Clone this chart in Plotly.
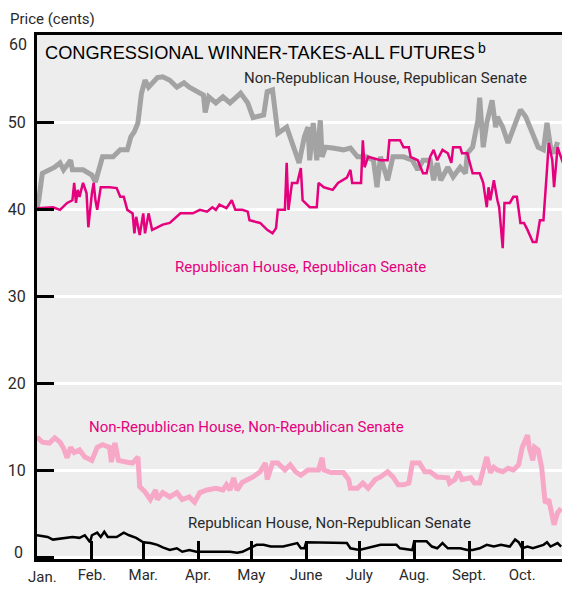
import plotly.graph_objects as go

# x = day of year (1996, day 0 = Jan 1), y = price in cents
month_days = [0, 31, 60, 91, 121, 152, 182, 213, 244, 274]
month_labels = ["Jan.", "Feb.", "Mar.", "Apr.", "May", "June", "July", "Aug.", "Sept.", "Oct."]
y_ticks = [0, 10, 20, 30, 40, 50, 60]
y_labels = ["0", "10", "20", "30", "40", "50", "60"]

# Non-Republican House, Republican Senate
gray_days = [0, 1, 3, 10, 13, 15, 19, 20, 26, 31, 33, 35, 37, 43, 47, 51, 53, 55, 57, 59,
             61, 63, 68, 71, 75, 79, 83, 86, 90, 94, 95, 97, 101, 105, 109, 115, 119, 122, 128, 130,
             133, 135, 136, 141, 145, 148, 151, 153, 154, 156, 158, 160, 161, 163, 167, 173, 177, 181, 186, 190,
             192, 194, 198, 201, 207, 212, 215, 218, 222, 224, 226, 228, 232, 235, 239, 242, 243, 246, 249, 250,
             252, 254, 257, 259, 260, 263, 266, 269, 273, 276, 279, 283, 286, 288, 290, 292, 294]
gray_vals = [40.2, 41, 44.1, 44.8, 45.3, 44.5, 45.6, 44.5, 44.5, 43.9, 43.1, 44.8, 46, 46, 46.8, 46.8, 48.3, 48.9, 49.9, 53.3,
             54.8, 54, 55.1, 55.2, 54.8, 54, 54.5, 54, 53.5, 53.1, 51.1, 52.9, 52.2, 52.9, 52.2, 53.3, 52.2, 50.5, 50.8, 53.5,
             53.7, 50.2, 48.7, 49.4, 47.1, 45.3, 48.3, 49.4, 45.6, 49.9, 45.6, 50.2, 46, 47.1, 47, 46.8, 47, 46, 46, 45.6,
             42.5, 46, 43.3, 46, 46, 45.6, 44.5, 45.6, 45.6, 43.3, 45.3, 43.3, 44.8, 43.7, 44.8, 44.1, 46.4, 47.1, 50.2, 52.8,
             47.1, 49.9, 52.5, 49.4, 50.6, 49.4, 47.6, 49.4, 51.4, 50.6, 49.1, 47.1, 46.8, 49.9, 47.1, 46.4, 47.7]

# Republican House, Republican Senate
mag_days = [0, 9, 13, 17, 20, 21, 22, 23, 24, 26, 28, 29, 31, 32, 33, 34, 36, 41, 45, 47,
            49, 51, 54, 55, 56, 58, 60, 61, 63, 65, 68, 71, 75, 78, 81, 88, 92, 96, 99, 101,
            103, 107, 110, 112, 116, 119, 120, 126, 130, 133, 135, 136, 140, 141, 142, 144, 147, 149, 150, 154,
            158, 159, 162, 167, 170, 175, 177, 178, 183, 184, 185, 187, 194, 198, 199, 205, 207, 210, 211, 215,
            218, 220, 222, 224, 226, 229, 232, 234, 235, 239, 240, 243, 246, 250, 252, 254, 255, 256, 258, 260,
            261, 263, 264, 267, 269, 271, 273, 275, 277, 280, 282, 284, 286, 288, 289, 291, 292, 294, 297, 298]
mag_vals = [40.1, 40.2, 39.9, 40.7, 41, 43, 40.7, 42.2, 41.4, 43, 41.8, 37.9, 41.8, 43, 41, 39.9, 42.5, 42.5, 42.4, 41.4,
            41.4, 39.9, 39.5, 37.2, 39.1, 37, 39.5, 37.2, 39.5, 37.6, 37.9, 38.2, 38.4, 39, 39.5, 39.5, 39.9, 39.7, 40.2, 39.9,
            40.5, 40.1, 41, 39.9, 39.9, 39.7, 38.7, 38.4, 37.6, 37.2, 37.8, 39.9, 39.9, 45.3, 39.9, 43, 43, 44.7, 41, 40.2,
            40.2, 43, 42.5, 42.2, 43, 43.6, 44.5, 43, 43, 47.9, 44.8, 46, 45.6, 45.6, 47.9, 47.9, 47.1, 47.1, 46, 45.6,
            44.1, 44.1, 46, 46.8, 45.6, 46.8, 46.4, 45.3, 47.1, 47.1, 46.4, 46.4, 44.1, 44.1, 43, 40.2, 42.5, 41, 43.3, 41,
            40.2, 35.5, 40.7, 40.7, 41.4, 41.4, 38.4, 38.4, 37.6, 36.2, 36.2, 38.7, 38.7, 44.5, 47.6, 45.6, 42.5, 47.1, 45.3, 46.6]

# Non-Republican House, Non-Republican Senate
pink_days = [0, 3, 7, 10, 13, 15, 17, 19, 21, 24, 27, 31, 34, 37, 41, 42, 44, 46, 51, 54,
             57, 58, 61, 64, 67, 68, 71, 75, 79, 82, 86, 89, 92, 96, 101, 105, 107, 109, 111, 113,
             116, 120, 122, 126, 129, 130, 133, 136, 140, 143, 146, 149, 153, 156, 159, 161, 162, 166, 173, 176,
             177, 181, 184, 187, 191, 194, 198, 201, 204, 207, 210, 212, 216, 219, 222, 226, 229, 232, 233, 236,
             238, 240, 245, 247, 250, 252, 254, 256, 258, 260, 263, 266, 269, 272, 274, 277, 278, 280, 281, 283,
             285, 287, 289, 292, 294, 296]
pink_vals = [13.8, 13.2, 13.1, 13.7, 13.2, 12.5, 11.4, 12.6, 12, 12.3, 11.5, 11.1, 12.6, 12.9, 12.6, 10.9, 13.1, 11.1, 10.9, 10.8,
             11.5, 8.1, 7.5, 6.6, 7.7, 6.6, 7.4, 6.9, 7.4, 6.6, 6.9, 6.3, 7.4, 7.7, 7.9, 7.7, 8.3, 7.7, 9.1, 7.7,
             8.6, 8.9, 9.2, 9.8, 10.8, 8.9, 10.8, 10.8, 10, 10.6, 9.8, 9.4, 10, 10, 10, 11.4, 10, 9.7, 9.7, 8.9,
             7.9, 7.9, 8.5, 7.9, 8.9, 9.2, 9.8, 9.2, 8.3, 8.3, 8.5, 10.8, 10.8, 9.8, 9.8, 9.2, 9.1, 9.1, 8.5, 8.9,
             9.8, 8.9, 9.1, 8.5, 8.5, 10.3, 11.5, 9.7, 10.3, 10, 9.8, 10.2, 10, 10.6, 12.6, 14, 12.6, 11.1, 12.6, 12.3,
             10.3, 6.2, 6.6, 3.7, 5.1, 5.6]

# Republican House, Non-Republican Senate
blk_days = [0, 6, 9, 15, 20, 24, 27, 30, 31, 34, 36, 38, 40, 45, 49, 52, 56, 60, 64, 68,
            71, 75, 79, 82, 86, 90, 94, 102, 109, 113, 116, 120, 124, 128, 132, 139, 147, 149, 151, 152,
            175, 177, 182, 190, 194, 203, 205, 212, 213, 220, 223, 226, 229, 232, 239, 243, 246, 250, 254, 258,
            262, 267, 270, 272, 274, 277, 280, 286, 288, 290, 294, 296]
blk_vals = [2.5, 2.3, 2, 2.2, 2.3, 2.2, 2.5, 1.7, 2.5, 2.8, 2.3, 2.9, 2.3, 2.3, 2.8, 2.5, 2.2, 1.7, 1.6, 1.4,
            1.1, 0.8, 1, 0.6, 0.8, 0.6, 0.6, 0.6, 0.6, 0.5, 0.6, 1, 1.4, 1.4, 1.2, 1.2, 1.6, 1, 1, 1.7,
            1.6, 1, 0.8, 1.2, 1.4, 1.4, 1, 0.8, 1.8, 1.8, 1.2, 1, 1.6, 1, 1, 0.8, 0.8, 1, 1.4, 1.2,
            1.4, 1.2, 2, 1.7, 1, 1.2, 1, 1.4, 1.7, 1.2, 1.6, 1.2]

LABEL_FONT = "Roboto, Liberation Sans, sans-serif"
MAGENTA = "#e5007d"
INK = "#2a2a2a"

fig = go.Figure()
fig.add_trace(go.Scatter(x=pink_days, y=pink_vals, mode="lines",
                         line=dict(color="#f7a8c7", width=5)))
fig.add_trace(go.Scatter(x=blk_days, y=blk_vals, mode="lines",
                         line=dict(color="black", width=2.5)))
fig.add_trace(go.Scatter(x=gray_days, y=gray_vals, mode="lines",
                         line=dict(color="#a3a3a3", width=5)))
fig.add_trace(go.Scatter(x=mag_days, y=mag_vals, mode="lines",
                         line=dict(color=MAGENTA, width=2.5)))

labels = [
    ("Non-Republican House, Republican Senate", 197, 55.1, INK),
    ("Republican House, Republican Senate", 149, 33.3, MAGENTA),
    ("Non-Republican House, Non-Republican Senate", 118.5, 14.9, MAGENTA),
    ("Republican House, Non-Republican Senate", 165, 3.9, INK),
]
for text, x, y, c in labels:
    fig.add_annotation(x=x, y=y, text=text, showarrow=False,
                       font=dict(family=LABEL_FONT, size=15, color=c))

fig.add_annotation(xref="paper", yref="paper", x=0.0113, y=0.9666, xanchor="left", yanchor="middle",
                   text="CONGRESSIONAL WINNER-TAKES-ALL FUTURES", showarrow=False,
                   font=dict(family="Liberation Sans, Arial, sans-serif", size=18.2, color="black"))
fig.add_annotation(xref="paper", yref="paper", x=0.8236, y=0.975, xanchor="left", yanchor="middle",
                   text="b", showarrow=False,
                   font=dict(family="Liberation Sans, Arial, sans-serif", size=14, color="black"))
fig.add_annotation(xref="paper", yref="paper", x=-0.0544, y=1.0305, xanchor="left", yanchor="middle",
                   text="Price (cents)", showarrow=False,
                   font=dict(family=LABEL_FONT, size=15, color=INK))

# end labels sit inside the axis range, first month label sits right of its tick
tick_font = dict(family=LABEL_FONT, size=16, color=INK)
fig.add_annotation(xref="paper", yref="paper", x=-0.0165, y=0.982, xanchor="right", yanchor="middle",
                   text=y_labels[-1], showarrow=False, font=tick_font, borderpad=0)
fig.add_annotation(xref="paper", yref="paper", x=-0.0225, y=0.0124, xanchor="right", yanchor="middle",
                   text=y_labels[0], showarrow=False, font=tick_font)
fig.add_annotation(xref="paper", yref="paper", x=0.0094, y=-0.0344, xanchor="center", yanchor="middle",
                   text=month_labels[0], showarrow=False, font=dict(family=LABEL_FONT, size=15, color=INK))

# the page adds an 8px body margin, so the figure is 8px smaller than the window
fig.update_layout(
    width=562, height=581, showlegend=False,
    margin=dict(l=29, r=0, t=27, b=30),
    paper_bgcolor="white", plot_bgcolor="#ededed",
    font=dict(family=LABEL_FONT, size=16, color=INK),
    xaxis=dict(range=[0, 301], tickvals=month_days, ticktext=[""] + month_labels[1:],
               tickfont=dict(size=15),
               ticks="inside", ticklen=18, tickwidth=2.5, tickcolor="black",
               showline=True, linecolor="black", linewidth=3, mirror=True,
               showgrid=False, zeroline=False),
    yaxis=dict(range=[-0.23, 60], tickvals=y_ticks, ticktext=[""] + y_labels[1:-1] + [""],
               tickfont=dict(size=16), ticklabelstandoff=5,
               ticks="inside", ticklen=17, tickwidth=2.5, tickcolor="black",
               showline=True, linecolor="black", linewidth=3,
               showgrid=True, gridcolor="white", gridwidth=2.5, zeroline=False),
)

fig.write_html("out.html")
